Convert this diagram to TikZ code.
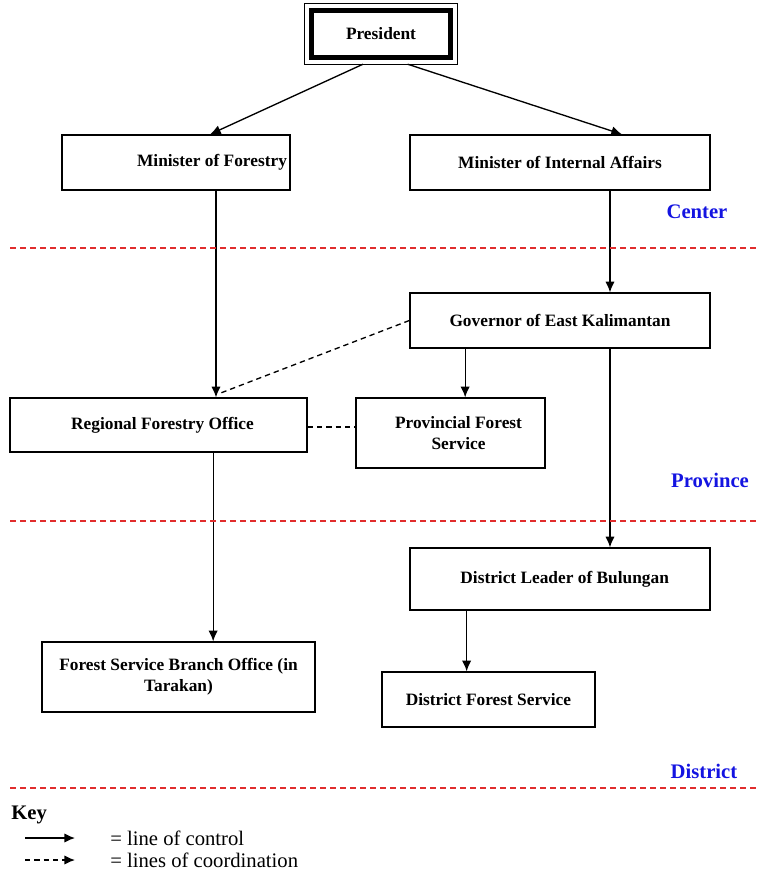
\documentclass[tikz,border=0pt]{standalone}
\usepackage{fontspec}
\setmainfont{Liberation Serif}
\usetikzlibrary{positioning,arrows.meta}
\definecolor{zonered}{RGB}{225,45,45}
\definecolor{zoneblue}{RGB}{20,20,225}
\begin{document}
\begin{tikzpicture}[x=0.75pt,y=-0.75pt,
		orgbox/.style={draw,line width=1pt,align=center,inner sep=2pt,
			font=\fontsize{13}{15.5}\selectfont\bfseries},
		zone/.style={zonered,line width=0.9pt,dash pattern=on 4.5pt off 3pt},
		zonelabel/.style={text=zoneblue,font=\fontsize{15.5}{18}\selectfont\bfseries},
		ctrl/.style={-{Latex[length=8pt,width=7pt]},line width=1pt},
		coord/.style={line width=1pt,dash pattern=on 4pt off 3pt}]
	\useasboundingbox (0,0) rectangle (759,875);
	
	\node[orgbox,line width=3.5pt,minimum width=104pt,minimum height=35pt] (pres) at (381,34) {President};
	\draw[line width=0.6pt] ([shift={(-3.4pt,3.4pt)}]pres.north west) rectangle ([shift={(3.4pt,-3.4pt)}]pres.south east);
	
	\node[orgbox,minimum width=171pt,minimum height=41.25pt] (mof) at (176,162.5) {\hspace*{54pt}Minister of Forestry};
	\node[orgbox,minimum width=225pt,minimum height=41.25pt] (mia) at (560,162.5) {Minister of Internal Affairs};
	\node[orgbox,minimum width=225pt,minimum height=41.25pt] (gov) at (560,320.5) {Governor of East Kalimantan};
	\node[orgbox,minimum width=222.75pt,minimum height=40.5pt] (rfo) at (158.5,425) {\hspace*{6pt}Regional Forestry Office};
	\node[orgbox,minimum width=141.75pt,minimum height=52.5pt] (pfs) at (450.5,433) {\hspace*{12pt}Provincial Forest\\\hspace*{12pt}Service};
	\node[orgbox,minimum width=225pt,minimum height=46.5pt] (dlb) at (560,579) {\hspace*{7pt}District Leader of Bulungan};
	\node[orgbox,minimum width=159.75pt,minimum height=41.25pt] (dfs) at (488.5,699.5) {District Forest Service};
	\node[orgbox,minimum width=204.75pt,minimum height=52.5pt] (fsb) at (178.5,677) {Forest Service Branch Office (in\\Tarakan)};
	
	\draw[ctrl] ([shift={(-13.5pt,-3.4pt)}]pres.south) -- ([xshift=25.5pt]mof.north);
	\draw[ctrl] ([shift={(20pt,-3.4pt)}]pres.south) -- ([xshift=46.5pt]mia.north);
	\draw[ctrl] ([xshift=30pt]mof.south) -- ([xshift=30pt]mof.south |- rfo.north);
	\draw[ctrl] ([xshift=37.5pt]mia.south) -- ([xshift=37.5pt]gov.north);
	\draw[ctrl] ([xshift=11pt]pfs.north |- gov.south) -- ([xshift=11pt]pfs.north);
	\draw[ctrl] ([xshift=37.5pt]gov.south) -- ([xshift=37.5pt]dlb.north);
	\draw[ctrl] ([xshift=-70pt]dlb.south) -- ([xshift=-70pt]dlb.south |- dfs.north);
	\draw[ctrl] ([xshift=41pt]rfo.south) -- ([xshift=41pt]rfo.south |- fsb.north);
	\draw[coord] (gov.west) -- ([shift={(46pt,3pt)}]rfo.north);
	\draw[coord] ([yshift=-1.5pt]rfo.east) -- ([yshift=-1.5pt]rfo.east -| pfs.west);
	
	\draw[zone] (10,248) -- (759,248);
	\draw[zone] (10,521) -- (759,521);
	\draw[zone] (10,788) -- (759,788);
	\node[zonelabel] (center) at (697,212) {Center};
	\node[zonelabel] (province) at (710,480) {Province};
	\node[zonelabel] (district) at (704,771) {District};
	
	\node[anchor=west,inner sep=0pt,font=\fontsize{15.5}{18}\selectfont\bfseries] (key) at (11,815) {Key};
	\coordinate (ctrlA) at (25,838);
	\coordinate (ctrlB) at (75,838);
	\coordinate (coordA) at (25,860);
	\coordinate (coordB) at (75,860);
	\draw[ctrl] (ctrlA) -- (ctrlB);
	\draw[coord,-{Latex[length=8pt,width=7pt]}] (coordA) -- (coordB);
	\node[anchor=west,inner sep=0pt,font=\fontsize{15.5}{18}\selectfont] (ctrltext) at (110,838) {= line of control};
	\node[anchor=west,inner sep=0pt,font=\fontsize{15.5}{18}\selectfont] (coordtext) at (110,860) {= lines of coordination};
\end{tikzpicture}
\end{document}
